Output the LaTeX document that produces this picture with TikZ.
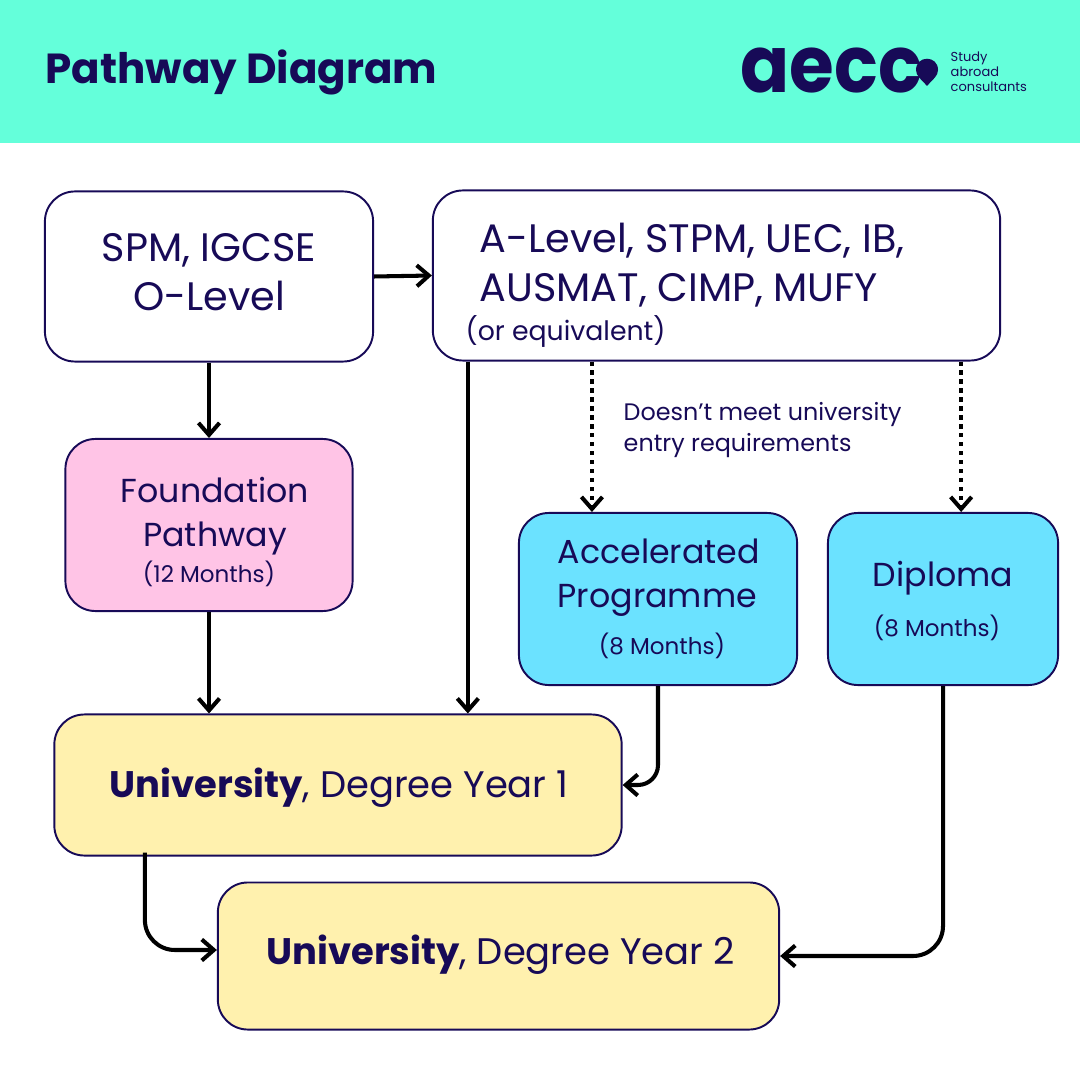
\documentclass[tikz,border=0pt]{standalone}
\usepackage{fontspec}
\setmainfont{Poppins}
\usetikzlibrary{arrows.meta}
\definecolor{inkblue}{HTML}{170A57}
\definecolor{headmint}{HTML}{64FFDA}
\definecolor{boxpink}{HTML}{FFC4E6}
\definecolor{boxblue}{HTML}{6BE2FF}
\definecolor{boxyellow}{HTML}{FFF1AE}
\tikzset{
  pathbox/.style={draw=inkblue,line width=0.55pt,rounded corners=0.3cm,inner sep=0pt},
  boxtext/.style={text=inkblue,font=\fontsize{9.45}{12.6}\selectfont,align=center,inner sep=0pt},
  widetext/.style={boxtext,font=\fontsize{11.3}{13.9}\selectfont},
  yeartext/.style={boxtext,font=\fontsize{10.5}{12.6}\selectfont},
  smalltext/.style={text=inkblue,font=\fontsize{6.55}{8}\selectfont,align=left,inner sep=0pt},
  flow/.style={draw=black,line width=1.15pt,-{Straight Barb[length=1.2mm,width=2.1mm,line width=1.15pt]}},
  dotflow/.style={flow,dash pattern=on 1.2pt off 1.35pt}
}
\begin{document}
\begin{tikzpicture}[x=0.01cm,y=-0.01cm]
\useasboundingbox (0,0) rectangle (1080,1080);
\fill[headmint] (0,0) rectangle (1080,143);
\node[anchor=west,text=inkblue,inner sep=0pt,font=\fontsize{11.95}{15}\selectfont\bfseries] (title) at (45,72) {Pathway Diagram};
% logo
\node[anchor=west,text=inkblue,inner sep=0pt,xscale=0.92,font=\fontsize{22.4}{25}\selectfont\bfseries] (logo) at (740,71) {aecc};
\fill[inkblue] (927,86) .. controls (921,79) and (916,76) .. (916,70) .. controls (916,55) and (938,55) .. (938,70) .. controls (938,76) and (933,79) .. (927,86) -- cycle;
\node[anchor=west,text=inkblue,align=left,inner sep=0pt,font=\fontsize{3.7}{4.2}\selectfont] (tagline) at (950,72) {Study\\abroad\\consultants};
% boxes
\node[pathbox,fill=white,minimum width=3.28cm,minimum height=1.70cm] (spm) at (209,276.5) {};
\node[pathbox,fill=white,minimum width=5.67cm,minimum height=1.70cm] (alevel) at (716.5,275.5) {};
\node[pathbox,fill=boxpink,minimum width=2.87cm,minimum height=1.72cm] (found) at (209,525) {};
\node[pathbox,fill=boxblue,minimum width=2.78cm,minimum height=1.72cm] (accel) at (658,599) {};
\node[pathbox,fill=boxblue,minimum width=2.30cm,minimum height=1.72cm] (dipl) at (943,599) {};
\node[pathbox,fill=boxyellow,minimum width=5.67cm,minimum height=1.41cm] (year1) at (338,785) {};
\node[pathbox,fill=boxyellow,minimum width=5.61cm,minimum height=1.47cm] (year2) at (498.5,956) {};
% texts
\node[widetext] (spmtext) at (209,272) {SPM, IGCSE\\O-Level};
\node[widetext,align=left,anchor=west] (alevtext) at (479,265) {A-Level, STPM, UEC, IB,\\AUSMAT, CIMP, MUFY};
\node[smalltext,anchor=west,font=\fontsize{7.6}{9}\selectfont] (equiv) at (465,331) {(or equivalent)};
\node[boxtext] (foundtext) at (215,516) {Foundation\\Pathway};
\node[smalltext] (foundmon) at (209,574) {(12 Months)};
\node[boxtext,align=left,anchor=west] (acceltext) at (557,578) {Accelerated\\Programme};
\node[smalltext] (accelmon) at (662,646) {(8 Months)};
\node[boxtext] (dipltext) at (943,578) {Diploma};
\node[smalltext] (diplmon) at (937,628) {(8 Months)};
\node[yeartext] (y1text) at (339,788) {\textbf{University}, Degree Year 1};
\node[yeartext] (y2text) at (500.5,955) {\textbf{University}, Degree Year 2};
\node[smalltext,anchor=west,font=\fontsize{6.78}{8.9}\selectfont] (note) at (623,430) {Doesn’t meet university\\entry requirements};
% connectors
\draw[flow] (spm) -- (found);
\draw[flow] (spm.east) -- (alevel.west);
\draw[flow] (found.south) -- (found.south |- year1.north);
\draw[flow] ([xshift=-2.485cm]alevel.south) -- ([xshift=-2.485cm]alevel.south |- year1.north);
\draw[dotflow] ([xshift=-1.245cm]alevel.south) -- ([xshift=-1.245cm]alevel.south |- accel.north);
\draw[dotflow] ([xshift=2.445cm]alevel.south) -- ([xshift=2.445cm]alevel.south |- dipl.north);
\draw[flow,rounded corners=0.2cm] (accel.south) |- (year1.east);
\draw[flow,rounded corners=0.3cm] (dipl.south) |- (year2.east);
\draw[flow,rounded corners=0.3cm] ([xshift=-1.93cm,yshift=0.04cm]year1.south) |- ([yshift=0.06cm]year2.west);
\end{tikzpicture}
\end{document}
